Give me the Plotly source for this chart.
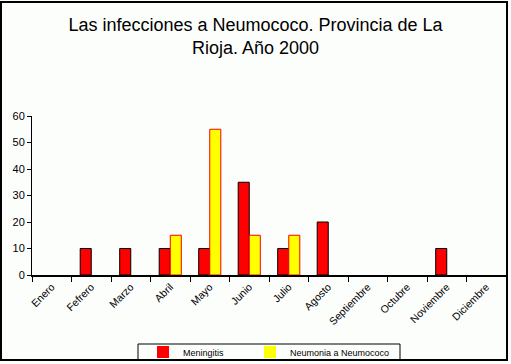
import plotly.graph_objects as go

meses = ["Enero", "Febrero", "Marzo", "Abril", "Mayo", "Junio", "Julio",
         "Agosto", "Septiembre", "Octubre", "Noviembre", "Diciembre"]
tick_labels = ["Enero", "Fefrero", "Marzo", "Abril", "Mayo", "Junio", "Julio",
               "Agosto", "Septiembre", "Octubre", "Noviembre", "Diciembre"]
meningitis = [0, 10, 10, 10, 10, 35, 10, 20, 0, 0, 10, 0]
neumonia = [0, 0, 0, 15, 55, 15, 15, 0, 0, 0, 0, 0]

W, H = 511, 364
L, R, T, B = 32, 5, 116, 89
pw, ph = W - L - R, H - T - B

def px(x):
    return (x - L) / pw

def py(y):
    return (H - B - y) / ph

fig = go.Figure()
fig.add_trace(go.Bar(x=meses, y=meningitis, name="Meningitis", legend="legend",
                     marker=dict(color="#ff0000",
                                 line=dict(color="#000000",
                                           width=[1 if v else 0 for v in meningitis]))))
fig.add_trace(go.Bar(x=meses, y=neumonia, name="Neumonia a Neumococo", legend="legend2",
                     marker=dict(color="#ffff00",
                                 line=dict(color="#ff0000",
                                           width=[1 if v else 0 for v in neumonia]))))

leg_common = dict(orientation="h", y=py(352), xanchor="left", yanchor="middle",
                  font=dict(size=9), bgcolor="rgba(0,0,0,0)", borderwidth=0,
                  itemwidth=30)

fig.update_layout(
    width=W, height=H,
    margin=dict(l=L, r=R, t=T, b=B, autoexpand=False),
    paper_bgcolor="#fcfefc", plot_bgcolor="#fcfefc",
    font=dict(family="Liberation Sans, Arial, sans-serif", color="#000000"),
    barmode="group", bargap=0.44, bargroupgap=0,
    title=dict(text="Las infecciones a Neumococo. Provincia de La<br>Rioja. Año 2000",
               x=0.5, xanchor="center", xref="container", y=1 - 31 / H, yanchor="top",
               font=dict(size=18, color="#000000")),
    xaxis=dict(tickmode="array", tickvals=meses, ticktext=tick_labels,
               tickangle=-45, tickfont=dict(size=10.5), showline=True, linecolor="#000000",
               linewidth=1.5, ticks="outside", ticklen=5, tickcolor="#000000",
               tickson="boundaries", showgrid=False, automargin=False),
    yaxis=dict(range=[0, 60], dtick=10, tickfont=dict(size=11), showline=True,
               linecolor="#000000", linewidth=1, ticks="outside", ticklen=4,
               tickcolor="#000000", showgrid=False, zeroline=False, automargin=False),
    showlegend=True,
    legend=dict(x=px(143), **leg_common),
    legend2=dict(x=px(250), **leg_common),
    shapes=[
        dict(type="rect", xref="paper", yref="paper", x0=px(1), x1=px(507),
             y0=py(360), y1=py(2), line=dict(color="#000000", width=2)),
        dict(type="rect", xref="paper", yref="paper", x0=px(138), x1=px(400),
             y0=py(360), y1=py(344), line=dict(color="#000000", width=1)),
    ],
)

fig.write_html("out.html", config={"displayModeBar": False},
               post_script="document.body.style.margin='0';document.body.style.overflow='hidden';")
